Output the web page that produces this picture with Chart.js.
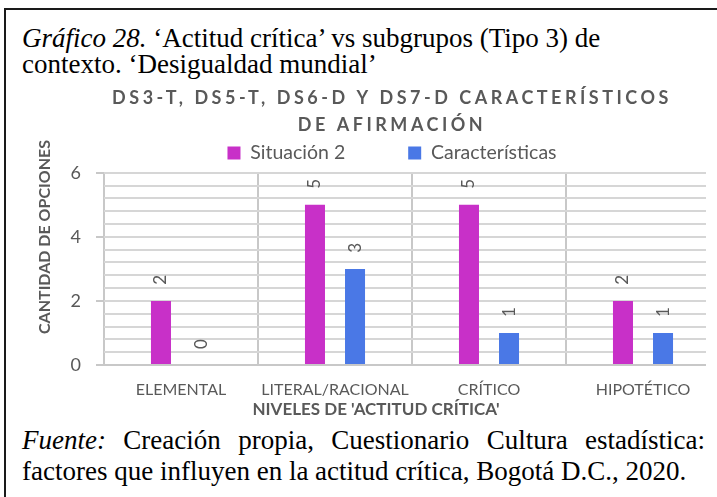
<!DOCTYPE html>
<html lang="es">
<head>
<meta charset="utf-8">
<title>Gráfico 28</title>
<script src="https://cdn.jsdelivr.net/npm/chart.js@4.4.1/dist/chart.umd.min.js"></script>
<style>
  html, body { margin: 0; padding: 0; background: #fff; width: 717px; height: 497px; overflow: hidden; }
  .frame { position: absolute; left: 4px; top: 8px; width: 800px; height: 600px;
           border-left: 2px solid #1a1a1a; border-top: 2px solid #1a1a1a; }
  .caption { position: absolute; left: 22px; top: 25px; font-family: "Liberation Serif", serif;
             font-size: 27px; line-height: 26px; color: #000; white-space: nowrap; }
  .plot-clip { position: absolute; left: 0; top: 80px; width: 706px; height: 345px; overflow: hidden; }
  #chart { position: absolute; left: 10px; top: 0; }
  .source { position: absolute; left: 22px; top: 425px; width: 683px; font-family: "Liberation Serif", serif;
            font-size: 27px; line-height: 31px; color: #000; }
  .source div { white-space: nowrap; }
  .source .just { text-align: justify; text-align-last: justify; white-space: normal; }
</style>
</head>
<body>
<div class="frame"></div>
<div class="caption"><i>Gráfico 28.</i> ‘Actitud crítica’ vs subgrupos (Tipo 3) de<br>contexto. ‘Desigualdad mundial’</div>
<div class="plot-clip"><canvas id="chart" width="770" height="345"></canvas></div>
<div class="source">
  <div class="just"><i>Fuente:</i> Creación propia, Cuestionario Cultura estadística:</div>
  <div>factores que influyen en la actitud crítica, Bogotá D.C., 2020.</div>
</div>
<script>
// Niveles de actitud crítica (eje X)
const categories = ['ELEMENTAL', 'LITERAL/RACIONAL', 'CRÍTICO', 'HIPOTÉTICO'];
// Cantidad de opciones por serie
const situacion2 = [2, 5, 5, 2];
const caracteristicos = [0, 3, 1, 1];
// Marcas con etiqueta en el eje Y
const yTickLabels = [0, 2, 4, 6];

const TEXT_GRAY = '#595959';
const FONT = 'Lato, "Open Sans", sans-serif';

const isLabeled = v => yTickLabels.some(t => Math.abs(t - v) < 1e-6);

// Espaciado de letras del título del gráfico
const titleSpacing = {
  id: 'titleSpacing',
  afterInit(chart) {
    const block = chart.titleBlock;
    if (!block || block._spaced) return;
    const draw = block.draw;
    block.draw = function (area) {
      const ctx = this.ctx;
      ctx.save();
      if ('letterSpacing' in ctx) ctx.letterSpacing = '3.5px';
      draw.call(this, area);
      ctx.restore();
    };
    block._spaced = true;
  }
};

// Líneas horizontales de la cuadrícula en cada marca del eje Y
const valueGrid = {
  id: 'valueGrid',
  beforeDatasetsDraw(chart, args, opts) {
    const { ctx, chartArea } = chart;
    const y = chart.scales.y;
    ctx.save();
    ctx.strokeStyle = opts.color;
    ctx.lineWidth = opts.width;
    y.ticks.forEach(t => {
      if (Math.abs(t.value) < 1e-6) return;
      const py = Math.round(y.getPixelForValue(t.value));
      ctx.beginPath();
      ctx.moveTo(chartArea.left, py);
      ctx.lineTo(chartArea.right, py);
      ctx.stroke();
    });
    ctx.restore();
  }
};

// Valores rotados sobre cada barra
const barValues = {
  id: 'barValues',
  afterDatasetsDraw(chart) {
    const ctx = chart.ctx;
    ctx.save();
    ctx.font = '17px ' + FONT;
    ctx.fillStyle = TEXT_GRAY;
    ctx.textAlign = 'center';
    ctx.textBaseline = 'middle';
    chart.data.datasets.forEach((ds, i) => {
      chart.getDatasetMeta(i).data.forEach((bar, j) => {
        ctx.save();
        ctx.translate(bar.x, bar.y - 21);
        ctx.rotate(-Math.PI / 2);
        ctx.fillText(String(ds.data[j]), 0, 0);
        ctx.restore();
      });
    });
    ctx.restore();
  }
};

// Títulos de los ejes
const axisTitles = {
  id: 'axisTitles',
  afterDraw(chart, args, opts) {
    const { ctx, chartArea } = chart;
    ctx.save();
    ctx.fillStyle = TEXT_GRAY;
    ctx.textAlign = 'center';
    ctx.textBaseline = 'middle';
    ctx.font = 'bold 17px ' + FONT;
    ctx.fillText(opts.x, chartArea.left + 272, chartArea.bottom + 45);
    ctx.font = 'bold 16px ' + FONT;
    ctx.translate(chartArea.left - 59, chartArea.bottom - 128);
    ctx.rotate(-Math.PI / 2);
    ctx.fillText(opts.y, 0, 0);
    ctx.restore();
  }
};

new Chart(document.getElementById('chart'), {
  type: 'bar',
  data: {
    labels: categories,
    datasets: [
      { label: 'Situación 2', data: situacion2, backgroundColor: '#C830C8' },
      { label: 'Características', data: caracteristicos, backgroundColor: '#4A78E6' }
    ]
  },
  options: {
    responsive: false,
    animation: false,
    events: [],
    categoryPercentage: 0.52,
    barPercentage: 0.5,
    layout: { padding: { left: 54, right: 60, top: 0, bottom: 10 } },
    scales: {
      x: {
        grid: { color: '#C8C8C8', lineWidth: 2, drawTicks: false },
        border: { color: '#C8C8C8', width: 2 },
        ticks: { color: TEXT_GRAY, font: { family: FONT, size: 16 }, padding: 15,
                 autoSkip: false, maxRotation: 0 },
        afterFit: s => { s.height = 50; }
      },
      y: {
        type: 'linear',
        min: 0,
        max: 6,
        grid: {
          drawOnChartArea: false,
          tickLength: 8,
          lineWidth: 2,
          tickColor: c => (c.tick && isLabeled(c.tick.value)) ? '#C8C8C8' : 'rgba(0,0,0,0)'
        },
        border: { color: '#C8C8C8', width: 2 },
        ticks: {
          stepSize: 0.4,
          maxTicksLimit: 20,
          autoSkip: false,
          padding: 15,
          color: TEXT_GRAY,
          font: { family: FONT, size: 18 },
          callback: v => isLabeled(v) ? String(Math.round(v)) : ''
        },
        afterFit: s => { s.width = 40; }
      }
    },
    plugins: {
      title: {
        display: true,
        text: ['DS3-T, DS5-T, DS6-D Y DS7-D CARACTERÍSTICOS', 'DE AFIRMACIÓN'],
        color: TEXT_GRAY,
        font: { family: FONT, size: 18, weight: 'bold', lineHeight: 1.5 },
        padding: { top: 4.5, bottom: -58.25 }
      },
      legend: {
        position: 'top',
        labels: { boxWidth: 13, boxHeight: 13, padding: 63, color: TEXT_GRAY,
                  font: { family: FONT, size: 19.5 } }
      },
      tooltip: { enabled: false },
      valueGrid: { color: '#D6D6D6', width: 2 },
      axisTitles: { x: "NIVELES DE 'ACTITUD CRÍTICA'", y: 'CANTIDAD DE OPCIONES' }
    }
  },
  plugins: [titleSpacing, valueGrid, barValues, axisTitles]
});
</script>
</body>
</html>
